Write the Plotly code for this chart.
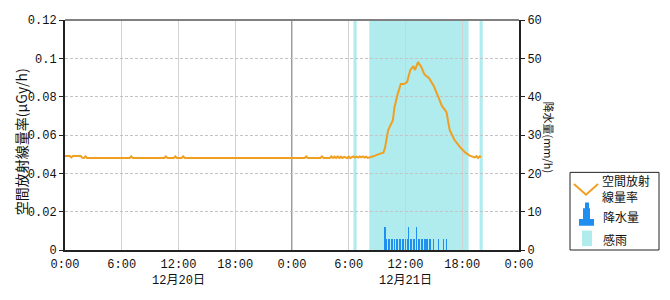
import plotly.graph_objects as go

# ---------------- data ----------------
rad_times = [
    "2023-12-20 00:00", "2023-12-20 00:30", "2023-12-20 00:40", "2023-12-20 00:50",
    "2023-12-20 01:40", "2023-12-20 01:50", "2023-12-20 02:00", "2023-12-20 02:10",
    "2023-12-20 02:20", "2023-12-20 06:50", "2023-12-20 07:00", "2023-12-20 07:10",
    "2023-12-20 10:30", "2023-12-20 10:40", "2023-12-20 10:50", "2023-12-20 11:30",
    "2023-12-20 11:40", "2023-12-20 11:50", "2023-12-20 12:20", "2023-12-20 12:30",
    "2023-12-20 12:40", "2023-12-21 01:20", "2023-12-21 01:30", "2023-12-21 01:40",
    "2023-12-21 03:00", "2023-12-21 03:10", "2023-12-21 03:20", "2023-12-21 04:00",
    "2023-12-21 04:10", "2023-12-21 04:20", "2023-12-21 04:30", "2023-12-21 04:40",
    "2023-12-21 04:50", "2023-12-21 05:00", "2023-12-21 05:10", "2023-12-21 05:20",
    "2023-12-21 05:30", "2023-12-21 05:50", "2023-12-21 06:00", "2023-12-21 06:10",
    "2023-12-21 06:30", "2023-12-21 06:40", "2023-12-21 06:50", "2023-12-21 07:00",
    "2023-12-21 07:10", "2023-12-21 07:20", "2023-12-21 07:30", "2023-12-21 07:40",
    "2023-12-21 07:50", "2023-12-21 08:00", "2023-12-21 08:10", "2023-12-21 08:20",
    "2023-12-21 08:40", "2023-12-21 09:10", "2023-12-21 09:40", "2023-12-21 09:50",
    "2023-12-21 10:10", "2023-12-21 10:40", "2023-12-21 10:50", "2023-12-21 11:10",
    "2023-12-21 11:30", "2023-12-21 11:50", "2023-12-21 12:10", "2023-12-21 12:30",
    "2023-12-21 12:50", "2023-12-21 13:00", "2023-12-21 13:20", "2023-12-21 13:40",
    "2023-12-21 14:00", "2023-12-21 14:30", "2023-12-21 15:00", "2023-12-21 15:30",
    "2023-12-21 15:50", "2023-12-21 16:20", "2023-12-21 16:40", "2023-12-21 17:10",
    "2023-12-21 17:50", "2023-12-21 18:20", "2023-12-21 18:50", "2023-12-21 19:20",
    "2023-12-21 19:30", "2023-12-21 19:40", "2023-12-21 19:50", "2023-12-21 20:00",
]
rad_values = [
    0.049, 0.049, 0.0483, 0.049,
    0.049, 0.0481, 0.048, 0.0488,
    0.048, 0.048, 0.0488, 0.048,
    0.048, 0.0488, 0.048, 0.048,
    0.0488, 0.048, 0.048, 0.0488,
    0.048, 0.048, 0.0488, 0.048,
    0.048, 0.0488, 0.048, 0.048,
    0.0488, 0.048, 0.0487, 0.048,
    0.0488, 0.048, 0.0487, 0.048,
    0.0486, 0.048, 0.0487, 0.048,
    0.0488, 0.0482, 0.0487, 0.0482,
    0.0488, 0.0483, 0.0488, 0.0482,
    0.0487, 0.0481, 0.0483, 0.0484,
    0.049, 0.050, 0.0508, 0.0533,
    0.0626, 0.0677, 0.0744, 0.0812,
    0.0866, 0.0866, 0.0876, 0.0938,
    0.0960, 0.0938, 0.0981, 0.0955,
    0.0916, 0.0896, 0.0854, 0.0795,
    0.0753, 0.0719, 0.0626, 0.0575,
    0.0533, 0.0508, 0.0491, 0.0483,
    0.049, 0.048, 0.0488, 0.0485,
]

rain_times = [
    "2023-12-21 09:50", "2023-12-21 10:00", "2023-12-21 10:10", "2023-12-21 10:20",
    "2023-12-21 10:30", "2023-12-21 10:40", "2023-12-21 10:50", "2023-12-21 11:00",
    "2023-12-21 11:10", "2023-12-21 11:20", "2023-12-21 11:30", "2023-12-21 11:40",
    "2023-12-21 11:50", "2023-12-21 12:00", "2023-12-21 12:10", "2023-12-21 12:20",
    "2023-12-21 12:30", "2023-12-21 12:40", "2023-12-21 12:50", "2023-12-21 13:00",
    "2023-12-21 13:10", "2023-12-21 13:20", "2023-12-21 13:30", "2023-12-21 13:40",
    "2023-12-21 13:50", "2023-12-21 14:00", "2023-12-21 14:10", "2023-12-21 14:20",
    "2023-12-21 14:30", "2023-12-21 14:40", "2023-12-21 15:00", "2023-12-21 15:30",
    "2023-12-21 16:00", "2023-12-21 16:20",
]
rain_values = [
    6, 3, 3, 3,
    3, 3, 3, 3,
    3, 3, 3, 3,
    3, 3, 3, 6,
    3, 3, 3, 3,
    6, 3, 3, 3,
    3, 3, 3, 3,
    3, 3, 3, 3,
    3, 3,
]

sense_starts = ["2023-12-21 06:30", "2023-12-21 08:10", "2023-12-21 19:50"]
sense_ends = ["2023-12-21 06:50", "2023-12-21 18:40", "2023-12-21 20:10"]

x_tickvals = [
    "2023-12-20 00:00", "2023-12-20 06:00", "2023-12-20 12:00", "2023-12-20 18:00",
    "2023-12-21 00:00", "2023-12-21 06:00", "2023-12-21 12:00", "2023-12-21 18:00",
    "2023-12-22 00:00",
]
x_ticktext = ["0:00", "6:00", "12:00<br>12月20日", "18:00", "0:00", "6:00",
              "12:00<br>12月21日", "18:00", "0:00"]
y_tickvals = [0, 0.02, 0.04, 0.06, 0.08, 0.1, 0.12]
y_ticktext = ["0", "0.02", "0.04", "0.06", "0.08", "0.1", "0.12"]
y2_tickvals = [0, 10, 20, 30, 40, 50, 60]

# ---------------- styles ----------------
ORANGE = "#f0a020"
BLUE = "rgba(30,143,240,0.99)"
BLUE_SOLID = "#1e8ff0"
CYAN = "#b0ebee"
AXIS = "#222222"
TICKFONT = dict(family="Liberation Mono, Noto Sans CJK JP", size=12, color="#111")
JPFONT = "Noto Sans CJK JP"

W, H = 670, 300
L, R, T, B = 65, 151, 20, 43
PW, PH = W - L - R, H - T - B


def px(x):
    return (x - L) / PW


def py(y):
    return (H - B - y) / PH


fig = go.Figure()

fig.add_trace(go.Bar(
    x=rain_times, y=rain_values, yaxis="y2", width=6.5 * 60 * 1000,
    marker=dict(color=BLUE, line=dict(width=0)), name="降水量",
))
fig.add_trace(go.Scatter(
    x=rad_times, y=rad_values, mode="lines", line=dict(color=ORANGE, width=2),
    name="空間放射線量率",
))

shapes = []
for s, e in zip(sense_starts, sense_ends):
    shapes.append(dict(type="rect", xref="x", yref="paper", x0=s, x1=e, y0=0, y1=1,
                       fillcolor=CYAN, line=dict(width=0), layer="below"))
# midnight divider
shapes.append(dict(type="line", xref="x", yref="paper", x0=x_tickvals[4], x1=x_tickvals[4],
                   y0=0, y1=1, line=dict(color="#7a7a7a", width=1.5), layer="between"))
# top border
shapes.append(dict(type="line", xref="paper", yref="paper", x0=0, x1=1, y0=1, y1=1,
                   line=dict(color="#808080", width=2), layer="above"))

# legend box and icons
shapes.append(dict(type="rect", xref="paper", yref="paper", x0=px(570), x1=px(659),
                   y0=py(257), y1=py(177), line=dict(color="#222", width=1),
                   fillcolor="white", layer="above"))
shapes.append(dict(type="path", xref="paper", yref="paper",
                   path=f"M {px(574)} {py(189)} L {px(586)} {py(200)} L {px(598)} {py(189)}",
                   line=dict(color=ORANGE, width=2), layer="above"))
shapes.append(dict(type="path", xref="paper", yref="paper",
                   path=(f"M {px(579)} {py(232)} L {px(579)} {py(225)} L {px(583)} {py(225)} "
                         f"L {px(583)} {py(214)} L {px(585)} {py(214)} L {px(585)} {py(208)} "
                         f"L {px(589)} {py(208)} L {px(589)} {py(214)} L {px(590)} {py(214)} "
                         f"L {px(590)} {py(225)} L {px(594)} {py(225)} L {px(594)} {py(232)} Z"),
                   fillcolor=BLUE_SOLID, line=dict(width=0), layer="above"))
shapes.append(dict(type="rect", xref="paper", yref="paper", x0=px(582), x1=px(592),
                   y0=py(253), y1=py(237), fillcolor=CYAN, line=dict(width=0), layer="above"))

annotations = [
    dict(text="空間放射線量率(μGy/h)", xref="paper", yref="paper", x=px(21), y=py(146),
         textangle=-90, showarrow=False, font=dict(family=JPFONT, size=14, color="#111"),
         xanchor="center", yanchor="middle"),
    dict(text="降水量(mm/h)", xref="paper", yref="paper", x=px(549), y=py(141),
         textangle=90, showarrow=False, font=dict(family=JPFONT, size=11, color="#111"),
         xanchor="center", yanchor="middle"),
    dict(text="空間放射<br>線量率", xref="paper", yref="paper", x=px(601), y=py(194),
         showarrow=False, align="left", font=dict(family=JPFONT, size=12, color="#111"),
         xanchor="left", yanchor="middle", borderpad=0),
    dict(text="降水量", xref="paper", yref="paper", x=px(601), y=py(222),
         showarrow=False, font=dict(family=JPFONT, size=12, color="#111"),
         xanchor="left", yanchor="middle"),
    dict(text="感雨", xref="paper", yref="paper", x=px(601), y=py(246),
         showarrow=False, font=dict(family=JPFONT, size=12, color="#111"),
         xanchor="left", yanchor="middle"),
]

fig.update_layout(
    width=W, height=H, margin=dict(l=L, r=R, t=T, b=B, pad=0),
    plot_bgcolor="white", paper_bgcolor="white", showlegend=False, bargap=0,
    shapes=shapes, annotations=annotations,
    xaxis=dict(type="date", range=[x_tickvals[0], x_tickvals[-1]], tickvals=x_tickvals,
               ticktext=x_ticktext, showgrid=True, gridcolor="#d2d2d2", gridwidth=1,
               showline=True, linecolor=AXIS, linewidth=2, ticks="", zeroline=False,
               tickfont=TICKFONT, ticklabelstandoff=2),
    yaxis=dict(range=[0, 0.12], tickvals=y_tickvals, ticktext=y_ticktext, showgrid=True,
               gridcolor="#c4c4c4", griddash="3px,2px", showline=True, linecolor=AXIS,
               linewidth=2, ticks="outside", ticklen=4, tickcolor=AXIS, zeroline=False,
               tickfont=TICKFONT),
    yaxis2=dict(range=[0, 60], tickvals=y2_tickvals, overlaying="y", side="right",
                showgrid=False, showline=True, linecolor=AXIS, linewidth=2,
                ticks="outside", ticklen=4, tickcolor=AXIS, zeroline=False,
                tickfont=TICKFONT),
)

fig.write_html("out.html")
